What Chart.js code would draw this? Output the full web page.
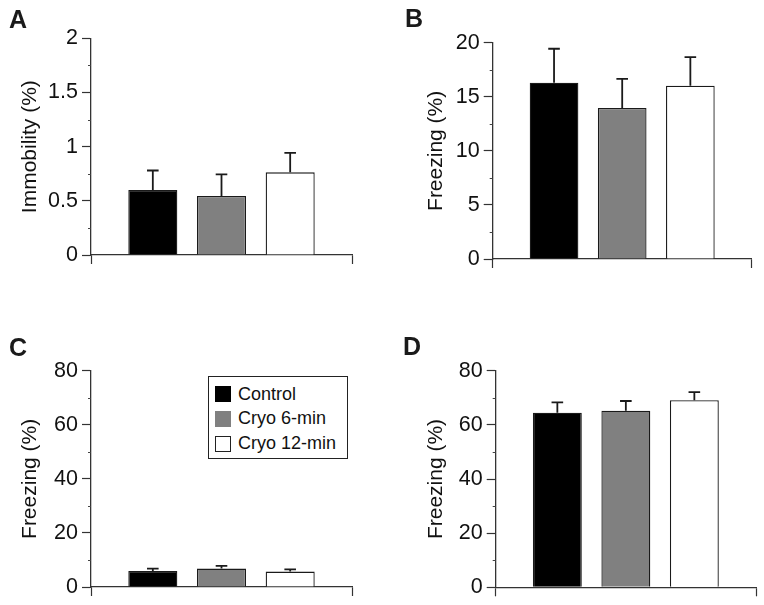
<!DOCTYPE html>
<html>
<head>
<meta charset="utf-8">
<script src="https://cdn.jsdelivr.net/npm/chart.js@4.4.0/dist/chart.umd.min.js"></script>
<style>
body { margin: 0; background: #fff; }
#page { position: relative; width: 764px; height: 605px; overflow: hidden; font-family: "Liberation Sans", Arial, sans-serif; }
#page canvas { position: absolute; }
.letter { position: absolute; font-weight: bold; font-size: 25px; line-height: 24px; color: #1a1a1a; }
#legend { position: absolute; left: 208.3px; top: 376px; width: 139.4px; height: 83.3px; box-sizing: border-box;
  border: 1.3px solid #222; padding-top: 4.8px; background: #fff; }
.fila { display: flex; align-items: center; height: 24.75px; font-size: 18px; color: #111; white-space: nowrap; }
.cuadro { display: inline-block; width: 16px; height: 16px; box-sizing: border-box; margin-left: 6.1px; margin-right: 6.5px; }
</style>
</head>
<body>
<div id="page">
  <canvas id="chartA" width="382" height="302" style="left:0;top:0"></canvas>
  <canvas id="chartB" width="382" height="302" style="left:382px;top:0"></canvas>
  <canvas id="chartC" width="382" height="303" style="left:0;top:302px"></canvas>
  <canvas id="chartD" width="382" height="303" style="left:382px;top:302px"></canvas>
  <div class="letter" style="left:9px;top:6.6px">A</div>
  <div class="letter" style="left:405px;top:6.4px">B</div>
  <div class="letter" style="left:9px;top:335px">C</div>
  <div class="letter" style="left:403px;top:334px">D</div>
  <div id="legend"></div>
</div>
<script>
// groups and colours
var grupos = ["Control", "Cryo 6-min", "Cryo 12-min"];
var colores = ["#000000", "#808080", "#ffffff"];

// panel A
var valoresA = [0.6, 0.545, 0.763];
var erroresA = [0.18, 0.2, 0.18];
var marcasA = [0, 0.5, 1, 1.5, 2];
var etiquetasA = ["0", "0.5", "1", "1.5", "2"];

// panel B
var valoresB = [16.3, 13.96, 16.02];
var erroresB = [3.14, 2.7, 2.65];
var marcasB = [0, 5, 10, 15, 20];
var etiquetasB = ["0", "5", "10", "15", "20"];

// panel C
var valoresC = [5.9, 6.8, 5.7];
var erroresC = [0.9, 1.0, 0.8];
var marcasC = [0, 20, 40, 60, 80];
var etiquetasC = ["0", "20", "40", "60", "80"];

// panel D
var valoresD = [64.5, 65.2, 69.1];
var erroresD = [3.8, 3.6, 3.0];
var marcasD = [0, 20, 40, 60, 80];
var etiquetasD = ["0", "20", "40", "60", "80"];

var fuente = '"Liberation Sans", Arial, sans-serif';

function panel(id, valores, errores, marcas, etiquetas, titulo, caja) {
  var maximo = marcas[marcas.length - 1];
  var menores = [];
  for (var i = 0; i < marcas.length - 1; i++) {
    menores.push((marcas[i] + marcas[i + 1]) / 2);
  }

  // error bars (upper only) and minor ticks on the y axis
  var extras = {
    id: "extras",
    afterDatasetsDraw: function (chart) {
      var c = chart.ctx;
      var y = chart.scales.y;
      var meta = chart.getDatasetMeta(0);
      c.save();
      c.strokeStyle = "#1a1a1a";
      c.lineWidth = 1.8;
      meta.data.forEach(function (barra, i) {
        var tope = y.getPixelForValue(valores[i] + errores[i]);
        c.beginPath();
        c.moveTo(barra.x, barra.y);
        c.lineTo(barra.x, tope);
        c.moveTo(barra.x - 5.8, tope);
        c.lineTo(barra.x + 5.8, tope);
        c.stroke();
      });
      c.strokeStyle = "#444";
      c.lineWidth = 1;
      var izq = chart.chartArea.left;
      menores.forEach(function (v) {
        var py = Math.round(y.getPixelForValue(v)) + 0.5;
        c.beginPath();
        c.moveTo(izq - 3, py);
        c.lineTo(izq, py);
        c.stroke();
      });
      c.restore();
    }
  };

  return new Chart(document.getElementById(id), {
    type: "bar",
    data: {
      datasets: [{
        data: valores.map(function (v, i) { return { x: i + 1, y: v }; }),
        backgroundColor: colores,
        borderColor: "#1a1a1a",
        borderWidth: 1.3,
        barPercentage: 0.714,
        categoryPercentage: 1
      }]
    },
    options: {
      responsive: false,
      animation: false,
      layout: { padding: caja.padding },
      plugins: { legend: { display: false }, tooltip: { enabled: false } },
      scales: {
        x: {
          type: "linear",
          min: 0.1,
          max: 3.9,
          offset: false,
          grid: { offset: false, drawOnChartArea: false, tickLength: 9, color: "#333", tickWidth: 1.2 },
          border: { color: "#333", width: 1.3 },
          afterBuildTicks: function (s) { s.ticks = [{ value: 0.1 }, { value: 3.9 }]; },
          ticks: { callback: function () { return ""; } },
          afterFit: function (s) { s.height = caja.alto; }
        },
        y: {
          min: 0,
          max: maximo,
          grid: { drawOnChartArea: false, tickLength: 9, color: "#333", tickWidth: 1.2 },
          border: { color: "#333", width: 1.3 },
          afterBuildTicks: function (s) {
            s.ticks = marcas.map(function (v) { return { value: v }; });
          },
          ticks: {
            padding: 4,
            color: "#111",
            font: { family: fuente, size: 21.5 },
            callback: function (v, i) { return etiquetas[i]; }
          },
          title: {
            display: true,
            text: titulo,
            color: "#111",
            padding: 0,
            font: { family: fuente, size: 21 }
          },
          afterFit: function (s) { s.width = caja.ancho; }
        }
      }
    },
    plugins: [extras]
  });
}

panel("chartA", valoresA, erroresA, marcasA, etiquetasA, "Immobility (%)",
  { padding: { left: 17.5, top: 38.3, right: 30, bottom: 27 }, ancho: 73.5, alto: 20 });
panel("chartB", valoresB, erroresB, marcasB, etiquetasB, "Freezing (%)",
  { padding: { left: 41.7, top: 42.7, right: 12.3, bottom: 23 }, ancho: 69, alto: 20 });
panel("chartC", valoresC, erroresC, marcasC, etiquetasC, "Freezing (%)",
  { padding: { left: 17.5, top: 68.7, right: 30, bottom: 3 }, ancho: 73.5, alto: 15 });
panel("chartD", valoresD, erroresD, marcasD, etiquetasD, "Freezing (%)",
  { padding: { left: 41.7, top: 68.7, right: 8, bottom: 2.7 }, ancho: 72, alto: 15 });

// legend in panel C
var leyenda = document.getElementById("legend");
grupos.forEach(function (g, i) {
  var fila = document.createElement("div");
  fila.className = "fila";
  var cuadro = document.createElement("span");
  cuadro.className = "cuadro";
  cuadro.style.background = colores[i];
  cuadro.style.border = "1px solid " + (i === 2 ? "#222" : colores[i]);
  var texto = document.createElement("span");
  texto.textContent = g;
  fila.appendChild(cuadro);
  fila.appendChild(texto);
  leyenda.appendChild(fila);
});
</script>
</body>
</html>
